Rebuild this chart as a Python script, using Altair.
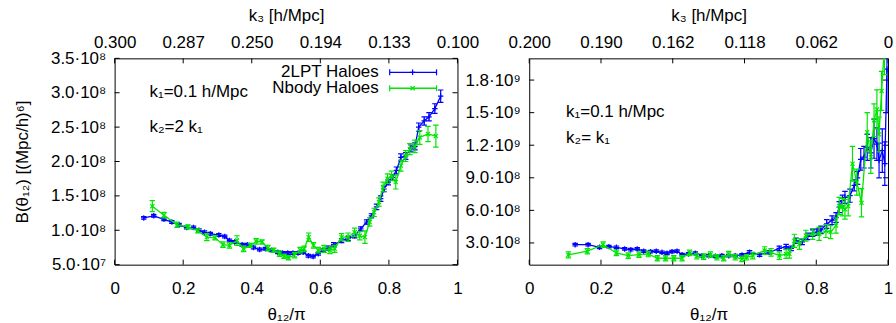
import json
import altair as alt
import pandas as pd

FONT = "Liberation Sans"
BLUE = "#0000ff"
GREEN = "#00e600"
FS = 17

# ---------------- left panel: k1 = 0.1 h/Mpc, k2 = 2 k1  (B in units of 1e8 (Mpc/h)^6)
L_2LPT_THETA = [0.085, 0.114, 0.144, 0.167, 0.188, 0.21, 0.23, 0.246, 0.262, 0.279, 0.304, 0.321,
                0.335, 0.35, 0.372, 0.387, 0.405, 0.423, 0.44, 0.457, 0.476, 0.49, 0.505, 0.52,
                0.535, 0.55, 0.565, 0.579, 0.594, 0.608, 0.623, 0.639, 0.662, 0.681, 0.70, 0.718,
                0.735, 0.749, 0.764, 0.776, 0.786, 0.798, 0.81, 0.822, 0.835, 0.849, 0.864, 0.876,
                0.887, 0.903, 0.917, 0.934, 0.951]
L_2LPT_B = [1.18, 1.21, 1.16, 1.12, 1.08, 1.04, 1.04, 1.00, 0.97, 0.95, 0.93, 0.91,
            0.85, 0.83, 0.79, 0.79, 0.75, 0.72, 0.73, 0.71, 0.68, 0.67, 0.67, 0.67,
            0.67, 0.68, 0.63, 0.62, 0.66, 0.71, 0.74, 0.79, 0.85, 0.88, 0.92, 1.02,
            1.12, 1.21, 1.34, 1.46, 1.60, 1.70, 1.77, 1.87, 2.06, 2.08, 2.19, 2.22,
            2.50, 2.59, 2.65, 2.77, 2.95]
L_2LPT_ERR = [0.02, 0.02, 0.02, 0.02, 0.02, 0.02, 0.02, 0.02, 0.02, 0.02, 0.02, 0.02,
              0.02, 0.02, 0.02, 0.02, 0.02, 0.02, 0.02, 0.02, 0.02, 0.02, 0.02, 0.02,
              0.02, 0.02, 0.02, 0.02, 0.02, 0.02, 0.03, 0.03, 0.03, 0.03, 0.03, 0.03,
              0.03, 0.03, 0.04, 0.04, 0.04, 0.04, 0.04, 0.05, 0.05, 0.05, 0.05, 0.05,
              0.06, 0.06, 0.06, 0.07, 0.09]

L_NBODY_THETA = [0.11, 0.144, 0.182, 0.214, 0.243, 0.269, 0.293, 0.316, 0.335, 0.357, 0.376, 0.396,
                 0.413, 0.43, 0.447, 0.464, 0.481, 0.494, 0.507, 0.525, 0.541, 0.553, 0.566, 0.58,
                 0.594, 0.611, 0.628, 0.642, 0.662, 0.681, 0.70, 0.715, 0.73, 0.744, 0.757, 0.771,
                 0.783, 0.796, 0.808, 0.82, 0.835, 0.849, 0.861, 0.876, 0.89, 0.914, 0.937]
L_NBODY_B = [1.35, 1.22, 1.08, 1.05, 0.99, 0.90, 0.89, 0.79, 0.78, 0.85, 0.73, 0.78,
             0.84, 0.83, 0.74, 0.71, 0.66, 0.62, 0.60, 0.64, 0.71, 0.73, 0.90, 0.78,
             0.71, 0.73, 0.71, 0.73, 0.90, 0.90, 0.97, 0.92, 0.90, 1.12, 1.26, 1.41,
             1.63, 1.75, 1.79, 1.70, 1.94, 2.08, 2.18, 2.22, 2.35, 2.40, 2.37]
L_NBODY_ERR = [0.08, 0.04, 0.04, 0.03, 0.03, 0.05, 0.03, 0.04, 0.04, 0.07, 0.04, 0.03,
               0.04, 0.03, 0.04, 0.03, 0.04, 0.03, 0.03, 0.04, 0.04, 0.04, 0.06, 0.04,
               0.04, 0.05, 0.05, 0.05, 0.05, 0.06, 0.06, 0.06, 0.09, 0.06, 0.06, 0.06,
               0.07, 0.07, 0.07, 0.10, 0.08, 0.08, 0.08, 0.09, 0.10, 0.11, 0.16]

L_Y_TICKS = [0.5, 1.0, 1.5, 2.0, 2.5, 3.0, 3.5]
L_Y_LABELS = ["5.0·10⁷", "1.0·10⁸", "1.5·10⁸", "2.0·10⁸", "2.5·10⁸", "3.0·10⁸", "3.5·10⁸"]
L_K3_LABELS = ["0.300", "0.287", "0.250", "0.194", "0.133", "0.100"]
L_NOTES = ["k₁=0.1 h/Mpc", "k₂=2 k₁"]

# ---------------- right panel: k1 = 0.1 h/Mpc, k2 = k1  (B in units of 1e8 (Mpc/h)^6)
R_2LPT_THETA = [0.128, 0.164, 0.196, 0.222, 0.243, 0.266, 0.283, 0.301, 0.319, 0.338, 0.354, 0.37,
                0.384, 0.398, 0.412, 0.426, 0.444, 0.463, 0.481, 0.5, 0.519, 0.537, 0.556, 0.574,
                0.593, 0.614, 0.642, 0.669, 0.697, 0.716, 0.73, 0.744, 0.761, 0.776, 0.79, 0.802,
                0.813, 0.829, 0.844, 0.855, 0.864, 0.873, 0.88, 0.894, 0.906, 0.915, 0.924, 0.933,
                0.942, 0.952, 0.961, 0.969, 0.975, 0.984, 0.991, 0.997]
R_2LPT_B = [2.84, 2.84, 2.60, 2.66, 2.60, 2.45, 2.38, 2.45, 2.24, 2.20, 2.24, 2.14,
            2.05, 2.20, 2.24, 1.92, 1.98, 2.05, 1.83, 1.83, 1.77, 1.83, 1.83, 1.83,
            1.90, 2.14, 1.90, 2.14, 2.50, 2.66, 2.50, 3.20, 3.10, 3.60, 3.90, 4.00,
            4.20, 4.75, 5.10, 5.35, 6.30, 6.90, 7.20, 7.35, 8.30, 9.00, 10.7, 10.9,
            11.8, 11.3, 12.6, 12.1, 10.6, 11.5, 10.3, 19.0]
R_2LPT_ERR = [0.12, 0.12, 0.12, 0.12, 0.12, 0.12, 0.12, 0.12, 0.12, 0.12, 0.12, 0.12,
              0.12, 0.12, 0.12, 0.12, 0.12, 0.12, 0.12, 0.12, 0.12, 0.12, 0.12, 0.12,
              0.12, 0.15, 0.15, 0.15, 0.2, 0.2, 0.2, 0.25, 0.25, 0.3, 0.3, 0.3,
              0.35, 0.4, 0.4, 0.45, 0.5, 0.5, 0.55, 0.6, 0.5, 0.6, 1.0, 1.0,
              1.2, 1.4, 1.8, 1.5, 1.6, 2.0, 2.0, 4.0]

R_NBODY_THETA = [0.109, 0.162, 0.206, 0.243, 0.276, 0.306, 0.332, 0.357, 0.38, 0.403, 0.426, 0.447,
                 0.467, 0.486, 0.505, 0.523, 0.542, 0.556, 0.574, 0.593, 0.606, 0.623, 0.656, 0.674,
                 0.697, 0.716, 0.725, 0.739, 0.753, 0.771, 0.79, 0.808, 0.827, 0.84, 0.855, 0.864,
                 0.873, 0.88, 0.889, 0.901, 0.913, 0.926, 0.942, 0.952, 0.961, 0.969, 0.975, 0.982,
                 0.99]
R_NBODY_B = [1.90, 2.24, 2.84, 2.08, 1.83, 1.92, 1.98, 1.59, 1.59, 1.59, 1.59, 2.08,
             1.77, 1.74, 1.92, 1.68, 1.59, 1.98, 1.68, 1.53, 1.68, 1.83, 2.30, 2.14,
             1.83, 1.98, 2.00, 3.20, 2.90, 3.67, 3.83, 3.83, 4.10, 4.00, 4.60, 6.40,
             6.30, 6.10, 6.40, 10.3, 8.60, 6.70, 13.2, 10.9, 14.3, 15.3, 13.0, 17.0,
             21.0]
R_NBODY_ERR = [0.28, 0.25, 0.25, 0.25, 0.25, 0.25, 0.25, 0.25, 0.25, 0.25, 0.25, 0.25,
               0.25, 0.25, 0.25, 0.25, 0.25, 0.25, 0.25, 0.25, 0.25, 0.3, 0.35, 0.35,
               0.35, 0.4, 0.4, 0.6, 0.5, 0.5, 0.5, 0.6, 0.6, 0.6, 0.7, 0.8,
               0.8, 0.9, 0.9, 1.6, 1.2, 1.3, 1.8, 1.5, 1.5, 1.8, 1.6, 1.8,
               2.5]

R_Y_TICKS = [3, 6, 9, 12, 15, 18]
R_Y_LABELS = ["3.0·10⁸", "6.0·10⁸", "9.0·10⁸", "1.2·10⁹", "1.5·10⁹", "1.8·10⁹"]
R_K3_LABELS = ["0.200", "0.190", "0.162", "0.118", "0.062", "0"]
R_NOTES = ["k₁=0.1 h/Mpc", "k₂= k₁"]

X_TICKS = [0, 0.2, 0.4, 0.6, 0.8, 1]
X_LABELS = ["0", "0.2", "0.4", "0.6", "0.8", "1"]
LEGEND_LABELS = ["2LPT Haloes", "Nbody Haloes"]
X_TITLE = "θ₁₂/π"
TOP_TITLE = "k₃ [h/Mpc]"
Y_TITLE = "B(θ₁₂) [(Mpc/h)⁶]"

PLUS = "M-1,0H1M0,-1V1"
CROSS = "M-0.75,-0.75L0.75,0.75M-0.75,0.75L0.75,-0.75"
HCAP = "M-1,0H1"


def label_expr(values, labels):
    return "%s[indexof(%s, datum.value)]" % (json.dumps(labels, ensure_ascii=False), json.dumps(values))


def series_layers(theta, b, err, color, marker, xs, ys):
    df = pd.DataFrame({"theta": theta, "B": b,
                       "lo": [v - e for v, e in zip(b, err)],
                       "hi": [v + e for v, e in zip(b, err)]})
    caps = pd.concat([df[["theta", "lo"]].rename(columns={"lo": "y"}),
                      df[["theta", "hi"]].rename(columns={"hi": "y"})])
    X = alt.X("theta:Q", scale=xs, axis=None)
    bars = alt.Chart(df).mark_rule(color=color, strokeWidth=1.2, clip=True).encode(
        x=X, y=alt.Y("lo:Q", scale=ys, axis=None), y2="hi:Q")
    capm = alt.Chart(caps).mark_point(shape=HCAP, size=30, filled=False, stroke=color,
                                       strokeWidth=1.2, opacity=1, clip=True).encode(
        x=X, y=alt.Y("y:Q", scale=ys, axis=None))
    line = alt.Chart(df).mark_line(color=color, strokeWidth=1.3, clip=True).encode(
        x=X, y=alt.Y("B:Q", scale=ys, axis=None))
    pts = alt.Chart(df).mark_point(shape=marker, size=30, filled=False, stroke=color,
                                   strokeWidth=1.2, opacity=1, clip=True).encode(
        x=X, y=alt.Y("B:Q", scale=ys, axis=None))
    return [bars, capm, line, pts]


def panel(w, h, ydom, yticks, ylabels, k3labels, blue, green, notes, note_pos,
          ylabpad, ytitle=None, legend=False):
    xs = alt.Scale(domain=[0, 1], nice=False, zero=False)
    ys = alt.Scale(domain=ydom, nice=False, zero=False)

    yaxis_kw = dict(orient="left", values=yticks, labelExpr=label_expr(yticks, ylabels),
                    labelPadding=ylabpad, ticks=False, domain=False, grid=False,
                    labelOverlap=False)
    if ytitle:
        yaxis_kw.update(title=ytitle, titlePadding=19)
    else:
        yaxis_kw.update(title=None)

    bottom_axis = alt.Chart(pd.DataFrame({"v": X_TICKS})).mark_rule(color="black").encode(
        x=alt.X("v:Q", scale=xs, axis=alt.Axis(orient="bottom", values=X_TICKS,
                                               labelExpr=label_expr(X_TICKS, X_LABELS),
                                               title=X_TITLE, labelPadding=16, titlePadding=10,
                                               ticks=False, domain=False, grid=False,
                                               labelFlush=False, labelOverlap=False)),
        y=alt.value(h), y2=alt.value(h - 5))
    top_axis = alt.Chart(pd.DataFrame({"v": X_TICKS})).mark_rule(color="black").encode(
        x=alt.X("v:Q", scale=xs, axis=alt.Axis(orient="top", values=X_TICKS,
                                               labelExpr=label_expr(X_TICKS, k3labels),
                                               title=TOP_TITLE, labelPadding=7, titlePadding=9,
                                               ticks=False, domain=False, grid=False,
                                               labelFlush=False, labelOverlap=False)),
        y=alt.value(0), y2=alt.value(5))
    left_ticks = alt.Chart(pd.DataFrame({"v": yticks})).mark_rule(color="black").encode(
        y=alt.Y("v:Q", scale=ys, axis=alt.Axis(**yaxis_kw)), x=alt.value(0), x2=alt.value(5))
    right_ticks = alt.Chart(pd.DataFrame({"v": yticks})).mark_rule(color="black").encode(
        y=alt.Y("v:Q", scale=ys, axis=None), x=alt.value(w), x2=alt.value(w - 5))

    layers = [left_ticks, bottom_axis, top_axis, right_ticks]
    layers += series_layers(*blue, BLUE, PLUS, xs, ys)
    layers += series_layers(*green, GREEN, CROSS, xs, ys)

    for txt, (px, py) in zip(notes, note_pos):
        layers.append(alt.Chart(pd.DataFrame({"t": [txt]})).mark_text(
            align="left", baseline="middle", font=FONT, fontSize=FS, color="black").encode(
            text="t:N", x=alt.value(px), y=alt.value(py)))

    if legend:
        for lbl, color, marker, py in zip(LEGEND_LABELS, [BLUE, GREEN], [PLUS, CROSS], [14, 30]):
            one = pd.DataFrame({"t": [lbl]})
            layers.append(alt.Chart(one).mark_text(
                align="right", baseline="middle", font=FONT, fontSize=FS, color="black").encode(
                text="t:N", x=alt.value(265), y=alt.value(py)))
            layers.append(alt.Chart(one).mark_rule(color=color, strokeWidth=1.3).encode(
                x=alt.value(276), x2=alt.value(323), y=alt.value(py)))
            for cx in (276, 323):
                layers.append(alt.Chart(one).mark_rule(color=color, strokeWidth=1.2).encode(
                    x=alt.value(cx), y=alt.value(py - 3), y2=alt.value(py + 3)))
            layers.append(alt.Chart(one).mark_point(shape=marker, size=30, filled=False,
                                                    stroke=color, strokeWidth=1.2, opacity=1).encode(
                x=alt.value(299), y=alt.value(py)))

    return alt.layer(*layers).resolve_axis(x="independent", y="independent").properties(
        width=w, height=h)


left = panel(344, 207, [0.5, 3.5], L_Y_TICKS, L_Y_LABELS, L_K3_LABELS,
             (L_2LPT_THETA, L_2LPT_B, L_2LPT_ERR), (L_NBODY_THETA, L_NBODY_B, L_NBODY_ERR),
             L_NOTES, [(35, 34), (35, 69)], ylabpad=9, ytitle=Y_TITLE, legend=True)
right = panel(360, 207, [1, 20], R_Y_TICKS, R_Y_LABELS, R_K3_LABELS,
              (R_2LPT_THETA, R_2LPT_B, R_2LPT_ERR), (R_NBODY_THETA, R_NBODY_B, R_NBODY_ERR),
              R_NOTES, [(37, 54), (37, 80)], ylabpad=9)

chart = alt.hconcat(left, right, spacing=72, bounds="flush").properties(
    padding={"left": 13, "top": 5, "right": 2, "bottom": 2}, background="white"
).configure_view(stroke="black", strokeWidth=1).configure_axis(
    labelFont=FONT, titleFont=FONT, labelFontSize=FS, titleFontSize=FS,
    labelColor="black", titleColor="black", titleFontWeight="normal"
)

chart.save("out.html", embed_options={"renderer": "svg", "actions": False})
